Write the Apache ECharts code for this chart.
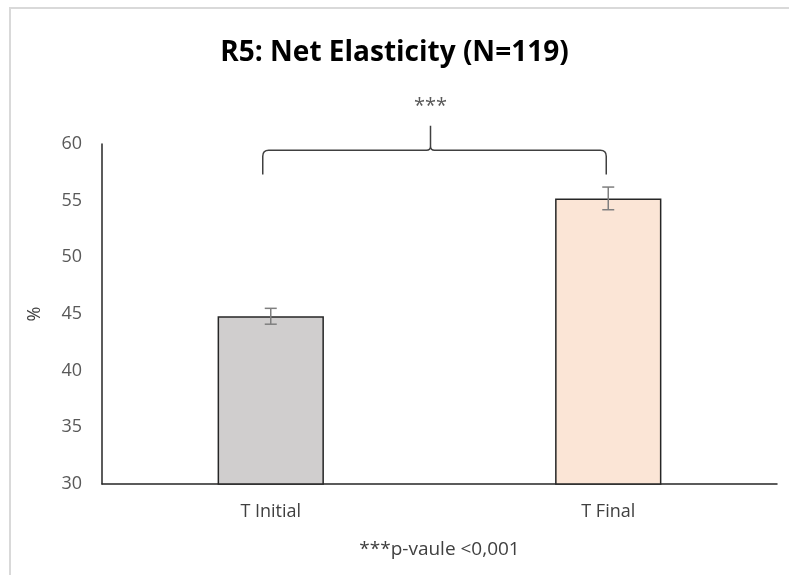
<!DOCTYPE html>
<html>
<head>
<meta charset="utf-8">
<script src="https://cdn.jsdelivr.net/npm/echarts@6/dist/echarts.min.js"></script>
<style>html,body{margin:0;padding:0;background:#fff}#c{width:789px;height:575px}</style>
</head>
<body>
<div id="c"></div>
<script>
const categories = ['T Initial', 'T Final'];
const values = [44.8, 55.2];
const errors = [0.7, 1.0];
const barColors = ['#d0cece', '#fbe5d6'];
const yTicks = [30, 35, 40, 45, 50, 55, 60];
// bracket: [leftCat, rightCat, lineY, tipY, endY]
const bracket = [[0, 1, 59.45, 61.6, 57.3]];

const chart = echarts.init(document.getElementById('c'));
const font = '"Open Sans", "Liberation Sans", sans-serif';

chart.setOption({
  animation: false,
  title: {
    text: 'R5: Net Elasticity (N=119)',
    left: 'center', top: 34,
    textStyle: {fontFamily: font, fontSize: 28, fontWeight: 'bold', color: '#000'}
  },
  graphic: [{
    type: 'rect', silent: true,
    shape: {x: 10, y: 8, width: 800, height: 600},
    style: {fill: 'none', stroke: '#d9d9d9', lineWidth: 2}
  }],
  grid: {left: 102, right: 12, top: 144, bottom: 91},
  xAxis: {
    type: 'category', data: categories,
    axisLine: {lineStyle: {color: '#262626', width: 1.5}},
    axisTick: {show: false},
    axisLabel: {color: '#404040', fontSize: 18, fontFamily: font, margin: 19},
    name: '***p-vaule <0,001', nameLocation: 'middle', nameGap: 56,
    nameTextStyle: {color: '#404040', fontSize: 19, fontFamily: font}
  },
  yAxis: {
    type: 'value', min: yTicks[0], max: yTicks[yTicks.length - 1], interval: 5,
    axisLine: {show: true, lineStyle: {color: '#262626', width: 1.5}},
    axisTick: {show: false},
    splitLine: {show: false},
    axisLabel: {color: '#595959', fontSize: 18, fontFamily: font, margin: 20},
    name: '%', nameLocation: 'middle', nameGap: 58, nameRotate: 90,
    nameTextStyle: {color: '#404040', fontSize: 18, fontFamily: font}
  },
  series: [{
    type: 'bar',
    barWidth: '31.5%',
    data: values.map((v, i) => ({
      value: v,
      itemStyle: {color: barColors[i], borderColor: '#262626', borderWidth: 1.5}
    }))
  }, {
    type: 'custom',
    data: values.map((v, i) => [i, v - errors[i], v + errors[i]]),
    renderItem: function (params, api) {
      const lo = api.coord([api.value(0), api.value(1)]);
      const hi = api.coord([api.value(0), api.value(2)]);
      const w = 6;
      const st = {stroke: '#7f7f7f', lineWidth: 1.5, fill: 'none'};
      return {type: 'group', children: [
        {type: 'line', shape: {x1: hi[0], y1: hi[1], x2: lo[0], y2: lo[1]}, style: st},
        {type: 'line', shape: {x1: hi[0] - w, y1: hi[1], x2: hi[0] + w, y2: hi[1]}, style: st},
        {type: 'line', shape: {x1: lo[0] - w, y1: lo[1], x2: lo[0] + w, y2: lo[1]}, style: st}
      ]};
    },
    z: 5
  }, {
    type: 'custom',
    clip: false,
    data: bracket,
    renderItem: function (params, api) {
      const l = api.coord([api.value(0), api.value(2)]);
      const r = api.coord([api.value(1), api.value(2)]);
      const tip = api.coord([api.value(0), api.value(3)]);
      const end = api.coord([api.value(0), api.value(4)]);
      const x1 = l[0] - 8, x2 = r[0] - 2;
      const y = l[1], yt = tip[1], ye = end[1];
      const xm = (x1 + x2) / 2 - 4;
      const rr = 6;
      const path = 'M' + x1 + ' ' + ye +
        ' L' + x1 + ' ' + (y + rr) +
        ' Q' + x1 + ' ' + y + ' ' + (x1 + rr) + ' ' + y +
        ' L' + (xm - 4) + ' ' + y +
        ' Q' + xm + ' ' + y + ' ' + xm + ' ' + (y - 4) +
        ' L' + xm + ' ' + yt +
        ' M' + xm + ' ' + (y - 4) +
        ' Q' + xm + ' ' + y + ' ' + (xm + 4) + ' ' + y +
        ' L' + (x2 - rr) + ' ' + y +
        ' Q' + x2 + ' ' + y + ' ' + x2 + ' ' + (y + rr) +
        ' L' + x2 + ' ' + ye;
      return {type: 'group', children: [
        {type: 'path', shape: {pathData: path}, style: {stroke: '#404040', lineWidth: 1.5, fill: 'none'}},
        {type: 'text', style: {text: '***', x: xm, y: yt - 20, fill: '#595959', fontSize: 20, fontFamily: font, textAlign: 'center', textVerticalAlign: 'middle'}}
      ]};
    },
    z: 6
  }]
});
</script>
</body>
</html>
